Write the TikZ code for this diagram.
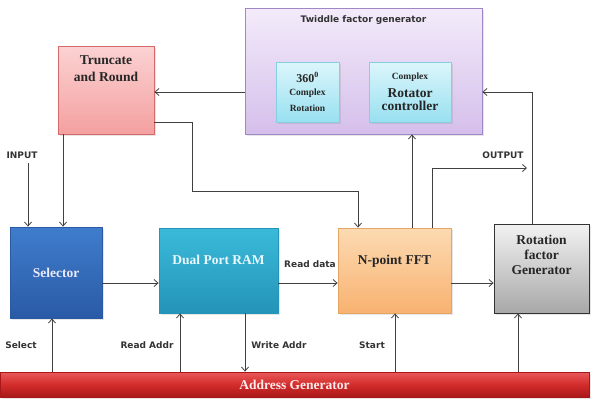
\documentclass[tikz,border=0pt]{standalone}
\usepackage{fontspec}
\setmainfont{Liberation Serif}
\newfontfamily\lblfont{DejaVu Sans}
\usetikzlibrary{arrows.meta, positioning, shadows}

\definecolor{twidtop}{HTML}{F3EBFA}
\definecolor{twidbot}{HTML}{D5BFEB}
\definecolor{twidline}{HTML}{A088C8}
\definecolor{cyantop}{HTML}{DCF6FB}
\definecolor{cyanbot}{HTML}{98E0F1}
\definecolor{cyanline}{HTML}{86CFE2}
\definecolor{pinktop}{HTML}{FBD2D2}
\definecolor{pinkbot}{HTML}{F4A0A0}
\definecolor{pinkline}{HTML}{D46A6A}
\definecolor{seltop}{HTML}{3F7DCC}
\definecolor{selbot}{HTML}{2A5AA6}
\definecolor{ramtop}{HTML}{3ABAD9}
\definecolor{rambot}{HTML}{2494B8}
\definecolor{ffttop}{HTML}{FCDAB2}
\definecolor{fftbot}{HTML}{F8B270}
\definecolor{fftline}{HTML}{E5A565}
\definecolor{rottop}{HTML}{F2F2F2}
\definecolor{rotbot}{HTML}{A8A8A8}
\definecolor{bartop}{HTML}{E85A5A}
\definecolor{barmid}{HTML}{D42C2C}
\definecolor{barbot}{HTML}{A81818}

\begin{document}
\begin{tikzpicture}[x=1pt, y=-1pt, >={Straight Barb[length=4pt,width=7pt]},
    blk/.style={line width=0.8pt, align=center, inner sep=1pt,
        font=\bfseries\fontsize{13.5}{15}\selectfont, text=black!85},
    shd/.style={drop shadow={opacity=0.2, shadow xshift=1.5pt, shadow yshift=-1.5pt}},
    lbl/.style={font=\lblfont\bfseries\fontsize{9}{10}\selectfont, text=black!80},
    wire/.style={draw=black!75, line width=0.8pt}]

    \useasboundingbox (0,0) rectangle (593,402);

    % Twiddle factor generator
    \node[blk, shd, draw=twidline, top color=twidtop, bottom color=twidbot,
        minimum width=237pt, minimum height=126pt,
        label={[lbl, anchor=north, yshift=-5pt]north:Twiddle factor generator}]
        (twid) at (363.5,71) {};
    \node[blk, shd, draw=cyanline, top color=cyantop, bottom color=cyanbot,
        minimum width=63pt, minimum height=60pt] (rot360) at (307.5,92)
        {{\fontsize{12}{13}\selectfont 360$^{\mathbf{0}}$}\\[-2pt]
         {\fontsize{9.5}{11}\selectfont Complex}\\[1pt]
         {\fontsize{9.5}{11}\selectfont Rotation}};
    \node[blk, shd, draw=cyanline, top color=cyantop, bottom color=cyanbot,
        minimum width=82pt, minimum height=60pt] (rotctl) at (410,92)
        {{\fontsize{9.5}{11}\selectfont Complex}\\[3pt]
         Rotator\\[-2pt]controller};

    % Main blocks
    \node[blk, shd, draw=pinkline, top color=pinktop, bottom color=pinkbot,
        minimum width=96pt, minimum height=88pt,
        label={[blk, font=\bfseries\fontsize{13.5}{16.5}\selectfont,
            anchor=north, yshift=-9pt]north:Truncate\\and Round}]
        (trunc) at (106,90) {};
    \node[blk, shd, draw=selbot, top color=seltop, bottom color=selbot,
        text=white!92!blue, minimum width=92pt, minimum height=91pt]
        (sel) at (56,272.5) {Selector};
    \node[blk, shd, draw=rambot, top color=ramtop, bottom color=rambot,
        text=white!92!cyan, minimum width=119pt, minimum height=85pt]
        (ram) at (218.5,270.5) {Dual Port RAM\\[6pt]};
    \node[blk, shd, draw=fftline, top color=ffttop, bottom color=fftbot,
        minimum width=113pt, minimum height=85pt]
        (fft) at (394.5,270.5) {N-point FFT\\[6pt]};
    \node[blk, shd, draw=black!80, top color=rottop, bottom color=rotbot,
        minimum width=95pt, minimum height=89pt]
        (rot) at (541.5,268.5) {Rotation\\factor\\Generator\\[12pt]};

    % Address Generator bar
    \node[blk, shd, draw=barbot, top color=bartop, bottom color=barbot,
        middle color=barmid, text=red!8, minimum width=589pt, minimum height=25pt]
        (addr) at (294.5,384.5) {Address Generator};

    % Labels
    \node[lbl] (inlbl) at (22,155) {INPUT};
    \node[lbl] (outlbl) at (503,155) {OUTPUT};
    \node[lbl] (rdlbl) at (310,264) {Read data};
    \node[lbl] (sellbl) at (21,345) {Select};
    \node[lbl] (ralbl) at (147,345) {Read Addr};
    \node[lbl] (walbl) at (279,345) {Write Addr};
    \node[lbl] (stlbl) at (372,345) {Start};

    \coordinate (inp) at (28,163);
    \coordinate (outp) at (527,168);

    % Connectors
    \draw[wire,->] (twid.west |- 0,92) -- (trunc.east |- 0,92);
    \draw[wire,->] (trunc.east |- 0,122) -| (192,191) -| (fft.north -| 358,0);
    \draw[wire,->] (trunc.south -| 63,0) -- (sel.north -| 63,0);
    \draw[wire,->] (inp) -- (sel.north -| inp);
    \draw[wire,->] (sel.east |- 0,283) -- (ram.west |- 0,283);
    \draw[wire,->] (ram.east |- 0,283) -- (fft.west |- 0,283);
    \draw[wire,->] (fft.east |- 0,283) -- (rot.west |- 0,283);
    \draw[wire,->] (fft.north -| 412,0) -- (twid.south -| 412,0);
    \draw[wire,->] (fft.north -| 432,0) |- (outp);
    \draw[wire,->] (rot.north -| 532,0) |- (twid.east |- 0,92);
    \draw[wire,->] (addr.north -| 52,0) -- (sel.south -| 52,0);
    \draw[wire,->] (addr.north -| 180,0) -- (ram.south -| 180,0);
    \draw[wire,->] (ram.south -| 245,0) -- (addr.north -| 245,0);
    \draw[wire,->] (addr.north -| 395,0) -- (fft.south -| 395,0);
    \draw[wire,->] (addr.north -| 518,0) -- (rot.south -| 518,0);
\end{tikzpicture}
\end{document}
